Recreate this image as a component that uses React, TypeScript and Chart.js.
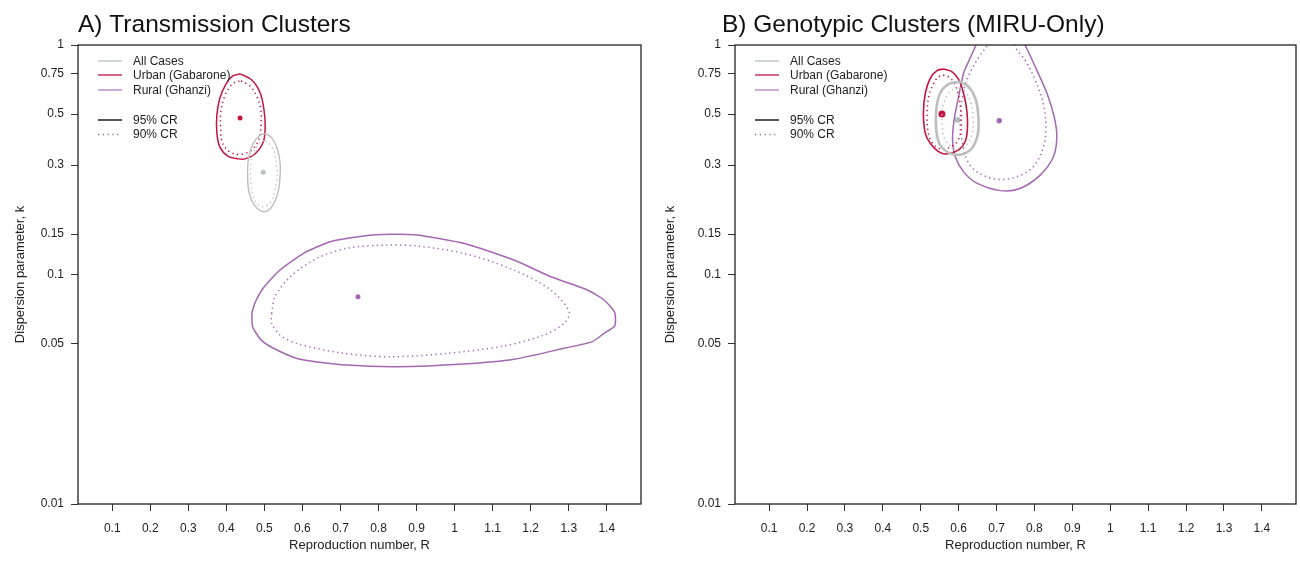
import React, { useEffect, useRef } from 'react';
import { Chart, registerables } from 'chart.js';

Chart.register(...registerables);

const FONT = '"Liberation Sans", Arial, Helvetica, sans-serif';

// ---------- axes ----------
const X_TICKS = [0.1, 0.2, 0.3, 0.4, 0.5, 0.6, 0.7, 0.8, 0.9, 1.0, 1.1, 1.2, 1.3, 1.4];
const Y_TICKS = [1, 0.75, 0.5, 0.3, 0.15, 0.1, 0.05, 0.01];
const X_RANGE = [0.01, 1.49];
const Y_RANGE = [0.01, 1];

const LEGEND_GROUPS = ['All Cases', 'Urban (Gabarone)', 'Rural (Ghanzi)'];
const LEGEND_CR = ['95% CR', '90% CR'];
const TITLE_A = 'A) Transmission Clusters';
const TITLE_B = 'B) Genotypic Clusters (MIRU-Only)';
const X_TITLE = 'Reproduction number, R';
const Y_TITLE = 'Dispersion parameter, k';

// ---------- Panel A: transmission clusters ----------
const A_EST_R = [0.497, 0.436, 0.746]; // All, Urban, Rural
const A_EST_K = [0.279, 0.481, 0.08];

const A_ALL_95_R = [0.504, 0.52, 0.533, 0.541, 0.541, 0.536, 0.523, 0.507, 0.491, 0.473, 0.46, 0.456, 0.457, 0.465, 0.478, 0.491];
const A_ALL_95_K = [0.41, 0.393, 0.356, 0.309, 0.266, 0.229, 0.201, 0.189, 0.189, 0.201, 0.226, 0.263, 0.309, 0.356, 0.389, 0.407];
const A_ALL_90_R = [0.502, 0.518, 0.528, 0.533, 0.532, 0.525, 0.515, 0.499, 0.483, 0.47, 0.464, 0.464, 0.47, 0.483, 0.494];
const A_ALL_90_K = [0.382, 0.363, 0.328, 0.291, 0.253, 0.224, 0.205, 0.197, 0.201, 0.22, 0.253, 0.294, 0.335, 0.367, 0.382];

const A_URBAN_95_R = [0.436, 0.467, 0.489, 0.499, 0.502, 0.497, 0.475, 0.449, 0.431, 0.404, 0.383, 0.375, 0.375, 0.383, 0.399, 0.417];
const A_URBAN_95_K = [0.748, 0.704, 0.618, 0.521, 0.439, 0.378, 0.335, 0.319, 0.319, 0.328, 0.359, 0.414, 0.495, 0.588, 0.676, 0.733];
const A_URBAN_90_R = [0.4385, 0.462, 0.481, 0.491, 0.491, 0.486, 0.467, 0.444, 0.423, 0.402, 0.388, 0.385, 0.385, 0.393, 0.407, 0.423];
const A_URBAN_90_K = [0.697, 0.663, 0.593, 0.516, 0.444, 0.389, 0.349, 0.335, 0.335, 0.349, 0.382, 0.435, 0.505, 0.582, 0.65, 0.69];

const A_RURAL_95_R = [0.467, 0.475, 0.497, 0.541, 0.603, 0.673, 0.761, 0.831, 0.901, 1.024, 1.156, 1.253, 1.349, 1.393, 1.421, 1.421, 1.393, 1.362, 1.288, 1.156, 1.024, 0.849, 0.717, 0.594, 0.533, 0.493, 0.469];
const A_RURAL_95_K = [0.068, 0.0751, 0.0873, 0.1046, 0.1237, 0.139, 0.1472, 0.1497, 0.1486, 0.1367, 0.1156, 0.0978, 0.0856, 0.0774, 0.0682, 0.0597, 0.0554, 0.051, 0.0477, 0.0427, 0.0407, 0.0396, 0.0403, 0.0427, 0.0469, 0.0515, 0.0592];
const A_RURAL_90_R = [0.519, 0.528, 0.568, 0.638, 0.717, 0.822, 0.901, 1.024, 1.156, 1.253, 1.301, 1.288, 1.235, 1.13, 0.98, 0.831, 0.699, 0.585, 0.541, 0.519];
const A_RURAL_90_K = [0.0677, 0.08, 0.0978, 0.1176, 0.1301, 0.1344, 0.1331, 0.1237, 0.1046, 0.0856, 0.0689, 0.0613, 0.0545, 0.0488, 0.0453, 0.0438, 0.0456, 0.0501, 0.0545, 0.0613];

// ---------- Panel B: genotypic clusters (MIRU-only) ----------
const B_EST_R = [0.597, 0.556, 0.707];
const B_EST_K = [0.471, 0.5, 0.468];

const B_ALL_95_R = [0.604, 0.626, 0.644, 0.652, 0.65, 0.635, 0.609, 0.578, 0.551, 0.541, 0.541, 0.551, 0.573];
const B_ALL_95_K = [0.692, 0.658, 0.586, 0.487, 0.405, 0.355, 0.334, 0.337, 0.367, 0.426, 0.521, 0.616, 0.676];
const B_ALL_90_R = [0.604, 0.62, 0.633, 0.638, 0.636, 0.623, 0.604, 0.583, 0.565, 0.557, 0.557, 0.567, 0.583];
const B_ALL_90_K = [0.65, 0.618, 0.553, 0.481, 0.414, 0.37, 0.356, 0.359, 0.385, 0.435, 0.516, 0.593, 0.637];

const B_URBAN_95_R = [0.56, 0.582, 0.6, 0.613, 0.622, 0.623, 0.617, 0.6, 0.569, 0.547, 0.525, 0.512, 0.507, 0.512, 0.525, 0.543];
const B_URBAN_95_K = [0.786, 0.765, 0.709, 0.616, 0.512, 0.426, 0.379, 0.349, 0.335, 0.343, 0.373, 0.412, 0.504, 0.616, 0.716, 0.773];
const B_URBAN_90_R = [0.559, 0.578, 0.594, 0.604, 0.607, 0.599, 0.578, 0.554, 0.533, 0.52, 0.517, 0.522, 0.536, 0.546];
const B_URBAN_90_K = [0.74, 0.718, 0.65, 0.548, 0.448, 0.385, 0.359, 0.352, 0.37, 0.414, 0.505, 0.606, 0.69, 0.725];

const B_RURAL_95_R = [0.646, 0.626, 0.613, 0.6, 0.588, 0.584, 0.591, 0.613, 0.648, 0.71, 0.762, 0.815, 0.85, 0.859, 0.852, 0.833, 0.806, 0.775, 0.744, 0.71, 0.678];
const B_RURAL_95_K = [1.0, 0.846, 0.753, 0.595, 0.471, 0.385, 0.326, 0.28, 0.25, 0.232, 0.237, 0.271, 0.326, 0.398, 0.487, 0.616, 0.778, 1.0, 1.222, 1.351, 1.222];
const B_RURAL_90_R = [0.675, 0.652, 0.625, 0.612, 0.606, 0.604, 0.609, 0.622, 0.648, 0.701, 0.754, 0.797, 0.824, 0.83, 0.824, 0.802, 0.775, 0.749, 0.736, 0.71, 0.691];
const B_RURAL_90_K = [0.99, 0.878, 0.727, 0.618, 0.521, 0.441, 0.385, 0.315, 0.28, 0.26, 0.267, 0.295, 0.36, 0.441, 0.548, 0.704, 0.86, 0.983, 1.186, 1.3, 1.186];

// ---------- styles ----------
const COL_ALL = '#BDBDBD';
const COL_ALL_PT = '#B7C0C0';
const COL_ALL_LEG = '#B5C2C2';
const COL_URBAN = '#C3143F';
const COL_RURAL = '#A467B2';
const COL_RURAL_LEG = '#B27CC4';
const DOTS = [1.3, 3.4];

function loop(R: number[], K: number[]) {
  const pts = R.map((r, i) => ({ x: r, y: K[i] }));
  pts.push({ ...pts[0] });
  return pts;
}

function contour(R: number[], K: number[], color: string, width: number, dotted: boolean, tension = 0.35) {
  return {
    data: loop(R, K),
    showLine: true,
    borderColor: color,
    borderWidth: width,
    borderDash: dotted ? DOTS : [],
    pointRadius: 0,
    tension,
    fill: false,
    clip: 0,
  };
}

function estimate(r: number, k: number, color: string, radius: number) {
  return {
    data: [{ x: r, y: k }],
    showLine: false,
    pointRadius: radius,
    pointBackgroundColor: color,
    pointBorderColor: color,
    pointBorderWidth: 0,
  };
}

const DATASETS_A = [
  contour(A_ALL_95_R, A_ALL_95_K, COL_ALL, 1.4, false),
  contour(A_ALL_90_R, A_ALL_90_K, COL_ALL, 1.4, true),
  contour(A_URBAN_95_R, A_URBAN_95_K, COL_URBAN, 1.5, false),
  contour(A_URBAN_90_R, A_URBAN_90_K, COL_URBAN, 1.5, true),
  contour(A_RURAL_95_R, A_RURAL_95_K, COL_RURAL, 1.5, false, 0.2),
  contour(A_RURAL_90_R, A_RURAL_90_K, COL_RURAL, 1.5, true, 0.3),
  estimate(A_EST_R[0], A_EST_K[0], COL_ALL_PT, 2.5),
  estimate(A_EST_R[1], A_EST_K[1], COL_URBAN, 2.5),
  estimate(A_EST_R[2], A_EST_K[2], COL_RURAL, 2.5),
];

const DATASETS_B = [
  contour(B_ALL_95_R, B_ALL_95_K, COL_ALL, 2.6, false),
  contour(B_ALL_90_R, B_ALL_90_K, COL_ALL, 1.6, true),
  contour(B_URBAN_95_R, B_URBAN_95_K, COL_URBAN, 1.6, false),
  contour(B_URBAN_90_R, B_URBAN_90_K, COL_URBAN, 1.5, true),
  contour(B_RURAL_95_R, B_RURAL_95_K, COL_RURAL, 1.5, false, 0.3),
  contour(B_RURAL_90_R, B_RURAL_90_K, COL_RURAL, 1.6, true),
  estimate(B_EST_R[0], B_EST_K[0], COL_ALL_PT, 3),
  estimate(B_EST_R[1], B_EST_K[1], COL_URBAN, 3.5),
  estimate(B_EST_R[2], B_EST_K[2], COL_RURAL, 2.7),
];

type Spec = {
  title: string;
  titleShift: number;
  datasets: any[];
  canvasLeft: number;
  yWidth: number;
  padRight: number;
};

const decorPlugin = (title: string, titleShift: number) => ({
  id: 'decor',
  afterDraw(chart: any) {
    const { ctx, chartArea } = chart;
    const { left, top, right, bottom } = chartArea;
    ctx.save();
    // frame
    ctx.strokeStyle = '#222';
    ctx.lineWidth = 1.3;
    ctx.setLineDash([]);
    ctx.strokeRect(left, top, right - left, bottom - top);
    // title
    ctx.fillStyle = '#111';
    ctx.font = `24.5px ${FONT}`;
    ctx.textAlign = 'left';
    ctx.textBaseline = 'alphabetic';
    ctx.fillText(title, left + titleShift, 31.5);
    // legend
    ctx.font = `12px ${FONT}`;
    ctx.textBaseline = 'middle';
    const rows = [
      { text: LEGEND_GROUPS[0], color: COL_ALL_LEG, dash: [] as number[], dy: 16, w: 1.3 },
      { text: LEGEND_GROUPS[1], color: COL_URBAN, dash: [], dy: 30, w: 1.3 },
      { text: LEGEND_GROUPS[2], color: COL_RURAL_LEG, dash: [], dy: 45, w: 1.3 },
      { text: LEGEND_CR[0], color: '#555', dash: [], dy: 75, w: 2 },
      { text: LEGEND_CR[1], color: '#777', dash: [1.2, 3.6], dy: 89.5, w: 1.3 },
    ];
    rows.forEach((r) => {
      const y = top + r.dy;
      ctx.strokeStyle = r.color;
      ctx.lineWidth = r.w;
      ctx.setLineDash(r.dash);
      ctx.beginPath();
      ctx.moveTo(left + 20, y);
      ctx.lineTo(left + 44, y);
      ctx.stroke();
      ctx.fillStyle = '#222';
      ctx.fillText(r.text, left + 55, y + 0.5);
    });
    ctx.restore();
  },
});

function Panel({ spec }: { spec: Spec }) {
  const ref = useRef<HTMLCanvasElement>(null);
  useEffect(() => {
    if (!ref.current) return;
    const chart = new Chart(ref.current, {
      type: 'scatter',
      data: { datasets: spec.datasets as any },
      options: {
        responsive: false,
        animation: false,
        devicePixelRatio: 1,
        layout: { padding: { left: 0, right: spec.padRight, top: 45, bottom: 0 } },
        plugins: { legend: { display: false }, tooltip: { enabled: false }, title: { display: false } },
        scales: {
          x: {
            type: 'linear',
            min: X_RANGE[0],
            max: X_RANGE[1],
            afterBuildTicks: (scale: any) => {
              scale.ticks = X_TICKS.map((v) => ({ value: v }));
            },
            afterFit: (scale: any) => {
              scale.height = 60;
            },
            ticks: {
              color: '#222',
              font: { size: 12, family: FONT },
              padding: 10,
              maxRotation: 0,
              autoSkip: false,
              callback: (v: any) => String(Number(Number(v).toFixed(1))),
            },
            grid: { drawOnChartArea: false, drawTicks: true, tickLength: 7, tickColor: '#333', tickWidth: 1 },
            border: { display: false },
            title: {
              display: true,
              text: X_TITLE,
              color: '#222',
              font: { size: 13, family: FONT },
              padding: { top: 0, bottom: 11 },
            },
          },
          y: {
            type: 'logarithmic',
            min: Y_RANGE[0],
            max: Y_RANGE[1],
            afterBuildTicks: (scale: any) => {
              scale.ticks = Y_TICKS.map((v) => ({ value: v }));
            },
            afterFit: (scale: any) => {
              scale.width = spec.yWidth;
            },
            ticks: {
              color: '#222',
              font: { size: 12, family: FONT },
              padding: 7,
              autoSkip: false,
              callback: (v: any) => String(v),
            },
            grid: { drawOnChartArea: false, drawTicks: true, tickLength: 7, tickColor: '#333', tickWidth: 1 },
            border: { display: false },
            title: {
              display: true,
              text: Y_TITLE,
              color: '#222',
              font: { size: 13, family: FONT },
              padding: { top: 13, bottom: 0 },
            },
          },
        },
      },
      plugins: [decorPlugin(spec.title, spec.titleShift)],
    } as any);
    return () => chart.destroy();
  }, [spec]);
  return (
    <canvas
      ref={ref}
      width={650}
      height={564}
      style={{ position: 'absolute', left: spec.canvasLeft, top: 0, width: 650, height: 564 }}
    />
  );
}

const SPEC_A: Spec = { title: TITLE_A, titleShift: 0, datasets: DATASETS_A, canvasLeft: 0, yWidth: 78, padRight: 9 };
const SPEC_B: Spec = { title: TITLE_B, titleShift: -13, datasets: DATASETS_B, canvasLeft: 650, yWidth: 85, padRight: 3 };

export default function App() {
  return (
    <div style={{ position: 'absolute', left: 0, top: 0, width: 1300, height: 564, background: '#fff', overflow: 'hidden' }}>
      <Panel spec={SPEC_A} />
      <Panel spec={SPEC_B} />
    </div>
  );
}
